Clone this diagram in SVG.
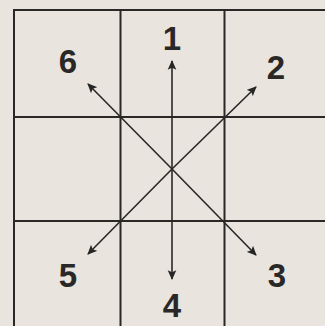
<svg xmlns="http://www.w3.org/2000/svg" width="325" height="326" viewBox="0 0 325 326">
<defs>
<marker id="ah" viewBox="0 0 10 10" refX="9" refY="5" markerWidth="6" markerHeight="6" orient="auto" markerUnits="strokeWidth">
<path d="M0,0.5 L10,5 L0,9.5 L2,5 z" fill="#262626"/>
</marker>
<style>
.grid{stroke:#2a2826;stroke-width:2;fill:none}
.arr{stroke:#2a2826;stroke-width:1.6;fill:none;marker-end:url(#ah)}
.lbl{font-family:"Liberation Sans",Arial,sans-serif;font-weight:bold;font-size:33px;fill:#2a2826;text-anchor:middle}
</style>
</defs>
<rect width="325" height="326" fill="#e9e5de"/>
<g id="grid">
<path class="grid" d="M14,330 V10 H330"/>
<path class="grid" d="M120.5,10 V330 M224.5,10 V330 M14,117 H330 M14,221 H330"/>
</g>
<g id="connectors">
<line class="arr" x1="172" y1="169" x2="172" y2="61"/>
<line class="arr" x1="172" y1="169" x2="172" y2="279"/>
<line class="arr" x1="172" y1="169" x2="88" y2="84"/>
<line class="arr" x1="172" y1="169" x2="256" y2="255"/>
<line class="arr" x1="172" y1="169" x2="256" y2="87"/>
<line class="arr" x1="172" y1="169" x2="88" y2="254"/>
</g>
<g id="n1"><text class="lbl" x="172" y="50">1</text></g>
<g id="n2"><text class="lbl" x="276" y="79">2</text></g>
<g id="n3"><text class="lbl" x="277" y="287">3</text></g>
<g id="n4"><text class="lbl" x="172" y="317">4</text></g>
<g id="n5"><text class="lbl" x="68" y="287">5</text></g>
<g id="n6"><text class="lbl" x="68" y="73">6</text></g>
</svg>
